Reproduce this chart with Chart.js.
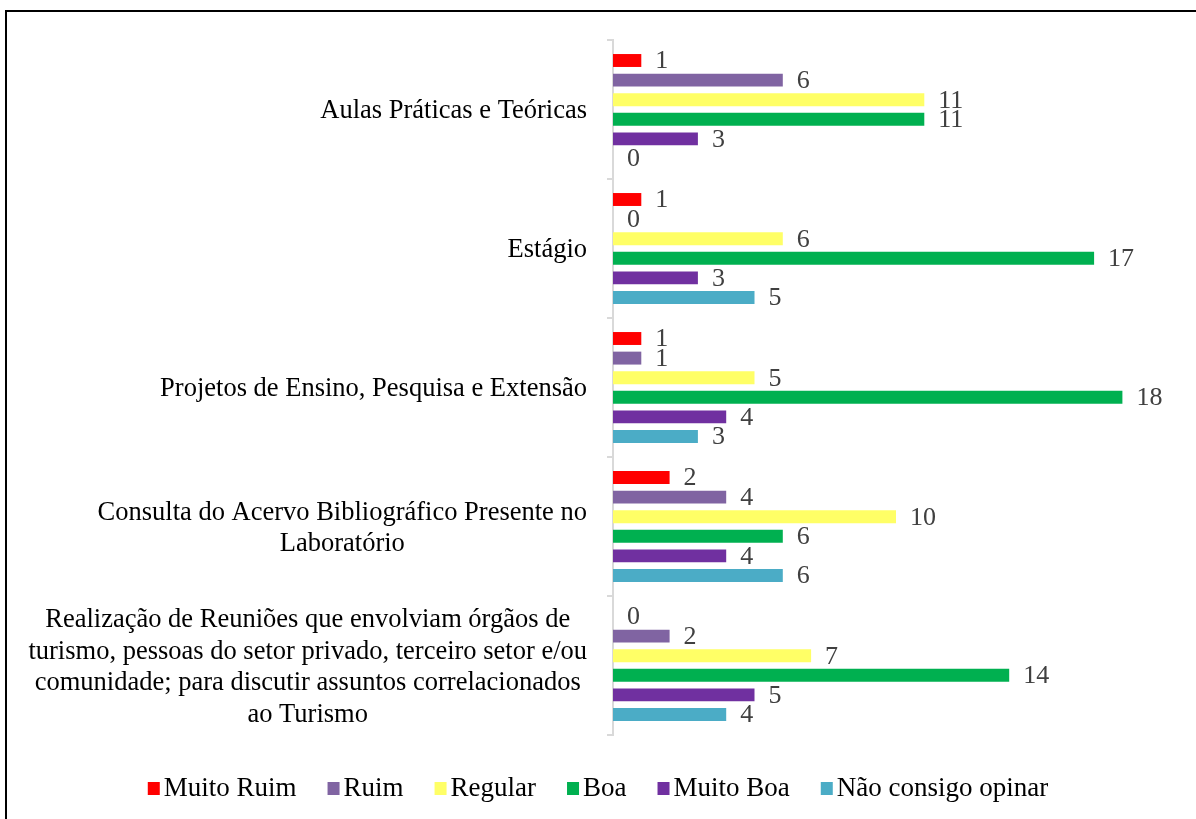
<!DOCTYPE html>
<html>
<head>
<meta charset="utf-8">
<script src="https://cdn.jsdelivr.net/npm/chart.js@4"></script>
<style>
  html, body { margin: 0; padding: 0; background: #fff; overflow: hidden; }
  #frame { position: absolute; left: 5px; top: 10px; width: 1200px; height: 820px; border: 2px solid #000; }
  #chart { position: absolute; left: 0; top: 0; }
</style>
</head>
<body>
<div id="frame"></div>
<canvas id="chart" width="1196" height="819"></canvas>
<script>
const categories = [
    ['Aulas Práticas e Teóricas'],
    ['Estágio'],
    ['Projetos de Ensino, Pesquisa e Extensão'],
    ['Consulta do Acervo Bibliográfico Presente no', 'Laboratório'],
    ['Realização de Reuniões que envolviam órgãos de', 'turismo, pessoas do setor privado, terceiro setor e/ou', 'comunidade; para discutir assuntos correlacionados', 'ao Turismo']
];
const seriesNames = ['Muito Ruim', 'Ruim', 'Regular', 'Boa', 'Muito Boa', 'Não consigo opinar'];
const muitoRuim = [1, 1, 1, 2, 0];
const ruim = [6, 0, 1, 4, 2];
const regular = [11, 6, 5, 10, 7];
const boa = [11, 17, 18, 6, 14];
const muitoBoa = [3, 3, 4, 4, 5];
const naoOpina = [0, 5, 3, 6, 4];
const colors = ['#FF0000', '#8064A2', '#FFFF66', '#00B050', '#7030A0', '#4BACC6'];

const FONT = '"Liberation Serif", "Times New Roman", serif';

// category labels: block right-aligned, lines centred inside the block
const categoryLabels = {
    id: 'categoryLabels',
    afterDraw(chart) {
        const ctx = chart.ctx;
        const y = chart.scales.y;
        const right = chart.chartArea.left - 26;
        const lh = 31.5;
        ctx.save();
        ctx.font = '26.5px ' + FONT;
        ctx.fillStyle = '#000';
        ctx.textAlign = 'center';
        ctx.textBaseline = 'middle';
        categories.forEach(function(lines, i) {
            const w = Math.max.apply(null, lines.map(function(l) { return ctx.measureText(l).width; }));
            const cx = right - w / 2;
            const cy = y.getPixelForValue(i) - (lines.length - 1) * lh / 2 + 2;
            lines.forEach(function(l, k) { ctx.fillText(l, cx, cy + k * lh); });
        });
        ctx.restore();
    }
};

const valueLabels = {
    id: 'valueLabels',
    afterDatasetsDraw(chart) {
        const ctx = chart.ctx;
        ctx.save();
        ctx.font = '26px ' + FONT;
        ctx.fillStyle = '#404040';
        ctx.textAlign = 'left';
        ctx.textBaseline = 'middle';
        chart.data.datasets.forEach(function(ds, di) {
            chart.getDatasetMeta(di).data.forEach(function(bar, i) {
                ctx.fillText(String(ds.data[i]), bar.x + 14, bar.y + 1);
            });
        });
        ctx.restore();
    }
};

const customLegend = {
    id: 'customLegend',
    afterDraw(chart) {
        const ctx = chart.ctx;
        ctx.save();
        ctx.font = '27px ' + FONT;
        ctx.textBaseline = 'middle';
        ctx.textAlign = 'left';
        const box = 12, gap = 4, spacing = 31;
        let total = 0;
        seriesNames.forEach(function(n, i) {
            total += box + gap + ctx.measureText(n).width + (i < seriesNames.length - 1 ? spacing : 0);
        });
        let x = (chart.width - total) / 2;
        const cy = 789;
        seriesNames.forEach(function(n, i) {
            ctx.fillStyle = colors[i];
            ctx.fillRect(x, cy - 7, box, 13);
            ctx.fillStyle = '#000';
            ctx.fillText(n, x + box + gap, cy);
            x += box + gap + ctx.measureText(n).width + spacing;
        });
        ctx.restore();
    }
};

const seriesData = [muitoRuim, ruim, regular, boa, muitoBoa, naoOpina];

new Chart(document.getElementById('chart').getContext('2d'), {
    type: 'bar',
    data: {
        labels: categories.map(function(c) { return c.join(' '); }),
        datasets: seriesNames.map(function(name, i) {
            return {
                label: name,
                data: seriesData[i],
                backgroundColor: colors[i],
                categoryPercentage: 0.846,
                barPercentage: 0.66
            };
        })
    },
    options: {
        indexAxis: 'y',
        responsive: false,
        animation: false,
        layout: { padding: { left: 607, right: 17, top: 40, bottom: 84 } },
        plugins: {
            legend: { display: false },
            tooltip: { enabled: false }
        },
        scales: {
            x: { display: false, min: 0, max: 20 },
            y: {
                ticks: { display: false },
                grid: { drawOnChartArea: false, drawTicks: true, tickLength: 6, color: '#D9D9D9', lineWidth: 2 },
                border: { display: true, color: '#D9D9D9', width: 2 }
            }
        }
    },
    plugins: [categoryLabels, valueLabels, customLegend]
});
</script>
</body>
</html>
